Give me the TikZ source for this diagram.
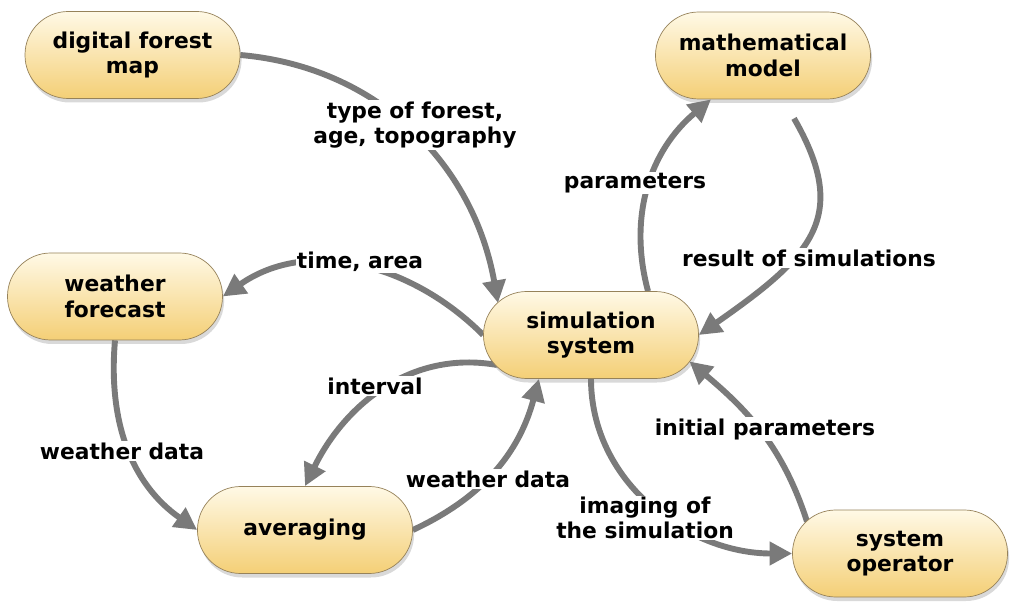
\documentclass[tikz,border=0pt]{standalone}
\usepackage{fontspec}
\setmainfont{DejaVu Sans}
\usetikzlibrary{arrows.meta,shadows,backgrounds}

\definecolor{boxtop}{RGB}{255,249,230}
\definecolor{boxbottom}{RGB}{244,207,118}
\definecolor{boxline}{RGB}{150,130,90}
\definecolor{flowgray}{RGB}{122,122,122}

\tikzset{
  box/.style={rectangle, rounded corners=1.08cm, minimum width=5.375cm, minimum height=2.175cm,
    inner sep=0pt, align=center, top color=boxtop, bottom color=boxbottom, draw=boxline, line width=0.5pt,
    drop shadow={shadow xshift=0.04cm, shadow yshift=-0.1cm, opacity=0.3},
    font=\bfseries\fontsize{15.5}{18}\selectfont},
  tag/.style={fill=white, inner sep=1pt, align=center, font=\bfseries\fontsize{15.5}{18}\selectfont},
  flow/.style={draw=flowgray, line width=4.2pt, -{Triangle[length=16pt,width=16pt]}}
}

\begin{document}
\begin{tikzpicture}
\useasboundingbox (0,0) rectangle (25.575,15.35);

\node[box] (dfm) at (3.3125,13.975) {digital forest\\map};
\node[box] (mm) at (19.075,13.9625) {mathematical\\model};
\node[box] (wf) at (2.875,7.9375) {weather\\forecast};
\node[box] (sim) at (14.775,6.975) {simulation\\system};
\node[box] (avg) at (7.625,2.1) {averaging};
\node[box] (op) at (22.5,1.5125) {system\\operator};

\begin{scope}[on background layer]
\draw[flow] (dfm.east) to[out=-5,in=100] ([xshift=-2.325cm,yshift=0.8cm]sim.center);
\draw[flow] (sim.west) to[out=135,in=35] (wf.east);
\draw[flow] (wf.south) to[out=-95,in=145] (avg.west);
\draw[flow] (avg.east) to[out=25,in=-105] ([xshift=-1.3cm]sim.south);
\draw[flow] ([xshift=-2.35cm,yshift=-0.75cm]sim.center) to[out=170,in=64] (avg.north);
\draw[flow] ([xshift=1.425cm]sim.north) to[out=105,in=220] ([xshift=-1.3cm]mm.south);
\draw[flow, shorten <=0.55cm] ([xshift=0.5cm]mm.south) to[out=-60,in=35,looseness=1.4] (sim.east);
\draw[flow] (sim.south) to[out=-90,in=180] (op.west);
\draw[flow] ([xshift=-2.325cm,yshift=0.8cm]op.center) to[out=108,in=-40] ([xshift=2.46cm,yshift=-0.66cm]sim.center);
\end{scope}

\node[tag] (forest) at (10.375,12.225) {type of forest,\\age, topography};
\node[tag] (area) at (9.0,8.8) {time, area};
\node[tag] (wdata) at (3.05,4.075) {weather data};
\node[tag] (interval) at (9.375,5.7) {interval};
\node[tag] (wdatab) at (12.2,3.375) {weather data};
\node[tag] (params) at (15.875,10.775) {parameters};
\node[tag] (result) at (20.225,8.9) {result of simulations};
\node[tag] (initial) at (19.125,4.625) {initial parameters};
\node[tag] (imaging) at (16.125,2.4) {imaging of\\the simulation};

\end{tikzpicture}
\end{document}
